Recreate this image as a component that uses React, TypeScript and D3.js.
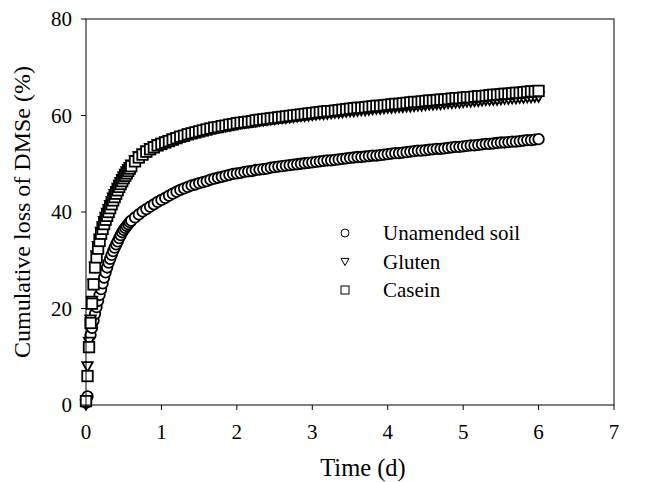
import React from "react";
import * as d3 from "d3";

const time = [
  0, 0.02, 0.04, 0.06, 0.08, 0.1, 0.12, 0.14, 0.16, 0.18,
  0.2, 0.22, 0.24, 0.26, 0.28, 0.3, 0.32, 0.34, 0.36, 0.38,
  0.4, 0.42, 0.44, 0.46, 0.48, 0.5, 0.52, 0.54, 0.56, 0.58,
  0.6,
  0.65, 0.7, 0.75, 0.8, 0.85, 0.9, 0.95, 1.0,
  1.05, 1.1, 1.15, 1.2, 1.25, 1.3, 1.35, 1.4, 1.45, 1.5, 1.55, 1.6, 1.65, 1.7, 1.75, 1.8, 1.85, 1.9, 1.95, 2.0,
  2.05, 2.1, 2.15, 2.2, 2.25, 2.3, 2.35, 2.4, 2.45, 2.5, 2.55, 2.6, 2.65, 2.7, 2.75, 2.8, 2.85, 2.9, 2.95, 3.0,
  3.05, 3.1, 3.15, 3.2, 3.25, 3.3, 3.35, 3.4, 3.45, 3.5, 3.55, 3.6, 3.65, 3.7, 3.75, 3.8, 3.85, 3.9, 3.95, 4.0,
  4.05, 4.1, 4.15, 4.2, 4.25, 4.3, 4.35, 4.4, 4.45, 4.5, 4.55, 4.6, 4.65, 4.7, 4.75, 4.8, 4.85, 4.9, 4.95, 5.0,
  5.05, 5.1, 5.15, 5.2, 5.25, 5.3, 5.35, 5.4, 5.45, 5.5, 5.55, 5.6, 5.65, 5.7, 5.75, 5.8, 5.85, 5.9, 5.95, 6.0,
];

const unamended = [
  0.5, 1.8, 12, 14.5, 16, 17.5, 18.9, 20.3, 21.6, 22.8,
  24, 25.2, 26.4, 27.5, 28.5, 29.5, 30.3, 31.1, 31.9, 32.6,
  33.3, 33.9, 34.6, 35.2, 35.8, 36.3, 36.7, 37.1, 37.5, 37.9,
  38.2,
  38.9, 39.5, 40.1, 40.6, 41.1, 41.6, 42.1, 42.5,
  42.9, 43.4, 43.8, 44.2, 44.6, 44.9, 45.2, 45.5, 45.7, 46.0, 46.2, 46.4, 46.7, 46.9, 47.1, 47.3, 47.5, 47.7, 47.9, 48.0,
  48.1, 48.3, 48.4, 48.5, 48.7, 48.8, 48.9, 49.0, 49.2, 49.3, 49.4, 49.5, 49.6, 49.7, 49.8, 49.9, 50.0, 50.1, 50.2, 50.3,
  50.4, 50.5, 50.6, 50.7, 50.7, 50.8, 50.9, 51.0, 51.1, 51.2, 51.3, 51.4, 51.4, 51.5, 51.6, 51.7, 51.7, 51.8, 51.9, 52.0,
  52.1, 52.2, 52.2, 52.3, 52.4, 52.5, 52.6, 52.7, 52.7, 52.8, 52.9, 53.0, 53.1, 53.1, 53.2, 53.3, 53.4, 53.5, 53.5, 53.6,
  53.7, 53.8, 53.8, 53.9, 54.0, 54.1, 54.1, 54.2, 54.3, 54.4, 54.4, 54.5, 54.6, 54.6, 54.7, 54.8, 54.9, 54.9, 55.0, 55.1,
];

const gluten = [
  0, 7.9, 13, 17.6, 21.5, 25, 28.5, 30.9, 32.8, 34.4,
  35.8, 36.9, 38.0, 38.9, 39.7, 40.5, 41.3, 42.1, 42.9, 43.6,
  44.2, 44.9, 45.5, 46.1, 46.7, 47.3, 47.8, 48.3, 48.8, 49.2,
  49.7,
  50.6, 51.4, 52.0, 52.6, 53.1, 53.5, 53.9, 54.2,
  54.5, 54.8, 55.1, 55.3, 55.6, 55.8, 56.0, 56.2, 56.4, 56.6, 56.8, 57.0, 57.1, 57.3, 57.4, 57.6, 57.7, 57.9, 58.0, 58.2,
  58.3, 58.4, 58.5, 58.6, 58.7, 58.8, 58.9, 59.0, 59.1, 59.2, 59.3, 59.4, 59.4, 59.5, 59.6, 59.7, 59.8, 59.8, 59.9, 60.0,
  60.1, 60.2, 60.2, 60.3, 60.4, 60.5, 60.5, 60.6, 60.7, 60.8, 60.8, 60.9, 61.0, 61.0, 61.1, 61.2, 61.3, 61.3, 61.4, 61.5,
  61.5, 61.6, 61.7, 61.7, 61.8, 61.8, 61.9, 62.0, 62.0, 62.1, 62.2, 62.2, 62.3, 62.3, 62.4, 62.5, 62.5, 62.6, 62.6, 62.7,
  62.8, 62.8, 62.9, 62.9, 63.0, 63.1, 63.1, 63.2, 63.2, 63.3, 63.4, 63.4, 63.5, 63.5, 63.6, 63.6, 63.7, 63.7, 63.8, 63.8,
];

const casein = [
  0.8, 6, 12, 17, 21, 25, 28.5, 30.6, 32.4, 34.0,
  35.5, 36.5, 37.5, 38.4, 39.2, 40.0, 40.8, 41.6, 42.4, 43.1,
  43.8, 44.5, 45.2, 45.8, 46.4, 47.0, 47.5, 48.0, 48.5, 49.0,
  49.5,
  50.5, 51.3, 51.9, 52.5, 53.0, 53.4, 53.8, 54.1,
  54.4, 54.7, 55.0, 55.3, 55.6, 55.8, 56.1, 56.3, 56.5, 56.7, 56.9, 57.1, 57.3, 57.5, 57.6, 57.8, 57.9, 58.1, 58.2, 58.4,
  58.5, 58.6, 58.7, 58.8, 59.0, 59.1, 59.2, 59.3, 59.4, 59.5, 59.6, 59.7, 59.8, 59.9, 60.0, 60.1, 60.2, 60.3, 60.4, 60.5,
  60.6, 60.7, 60.8, 60.9, 60.9, 61.0, 61.1, 61.2, 61.3, 61.4, 61.5, 61.6, 61.6, 61.7, 61.8, 61.9, 62.0, 62.0, 62.1, 62.2,
  62.3, 62.4, 62.4, 62.5, 62.6, 62.7, 62.8, 62.8, 62.9, 63.0, 63.1, 63.1, 63.2, 63.3, 63.3, 63.4, 63.5, 63.6, 63.6, 63.7,
  63.8, 63.8, 63.9, 64.0, 64.0, 64.1, 64.2, 64.3, 64.3, 64.4, 64.5, 64.5, 64.6, 64.7, 64.7, 64.8, 64.9, 65.0, 65.0, 65.1,
];

const xTicks = [0, 1, 2, 3, 4, 5, 6, 7];
const yTicks = [0, 20, 40, 60, 80];
const seriesNames = ["Unamended soil", "Gluten", "Casein"];
const xTitle = "Time (d)";
const yTitle = "Cumulative loss of DMSe (%)";

const W = 648;
const H = 482;
const L = 86, R = 614, T = 19, B = 405;
const FONT = "'Liberation Serif', 'Times New Roman', serif";

type Shape = "circle" | "triangle" | "square";

function Marker({ x, y, shape, s, sw }: { x: number; y: number; shape: Shape; s: number; sw: number }) {
  const common = { fill: "#fff", stroke: "#000", strokeWidth: sw };
  if (shape === "circle") return <circle cx={x} cy={y} r={s / 2} {...common} />;
  if (shape === "square") return <rect x={x - s / 2} y={y - s / 2} width={s} height={s} {...common} />;
  const h = s * 0.9;
  return (
    <path d={`M${x - s / 2},${y - h / 2}L${x + s / 2},${y - h / 2}L${x},${y + h / 2}Z`} {...common} />
  );
}

export default function App() {
  const x = d3.scaleLinear().domain([0, 7]).range([L, R]);
  const y = d3.scaleLinear().domain([0, 80]).range([B, T]);

  const series: { name: string; values: number[]; shape: Shape }[] = [
    { name: seriesNames[0], values: unamended, shape: "circle" },
    { name: seriesNames[1], values: gluten, shape: "triangle" },
    { name: seriesNames[2], values: casein, shape: "square" },
  ];

  const legendY = [233, 262, 290];

  return (
    <svg width={W} height={H} style={{ position: "absolute", left: 0, top: 0, background: "#fff" }}>
      <rect x={0} y={0} width={W} height={H} fill="#fff" />
      {series.map((s) => (
        <g key={s.name}>
          {time.map((t, i) => (
            <Marker key={i} x={x(t)} y={y(s.values[i])} shape={s.shape} s={10.5} sw={1.8} />
          ))}
        </g>
      ))}
      <rect x={L} y={T} width={R - L} height={B - T} fill="none" stroke="#000" strokeWidth={1} />
      {xTicks.map((t) => (
        <g key={"x" + t}>
          <line x1={x(t)} x2={x(t)} y1={B} y2={B + 5} stroke="#000" />
          <text x={x(t)} y={439} textAnchor="middle" fontFamily={FONT} fontSize={21}>
            {t}
          </text>
        </g>
      ))}
      {yTicks.map((v) => (
        <g key={"y" + v}>
          <line x1={L - 5} x2={L} y1={y(v)} y2={y(v)} stroke="#000" />
          <text x={72} y={y(v) + 7} textAnchor="end" fontFamily={FONT} fontSize={21}>
            {v}
          </text>
        </g>
      ))}
      <text x={363} y={476} textAnchor="middle" fontFamily={FONT} fontSize={24.5}>
        {xTitle}
      </text>
      <text
        transform={`translate(30,212) rotate(-90)`}
        textAnchor="middle"
        fontFamily={FONT}
        fontSize={24}
      >
        {yTitle}
      </text>
      {series.map((s, i) => (
        <g key={"lg" + s.name}>
          <Marker x={345} y={legendY[i]} shape={s.shape} s={8} sw={1} />
          <text x={383} y={legendY[i] + 7} fontFamily={FONT} fontSize={21}>
            {s.name}
          </text>
        </g>
      ))}
    </svg>
  );
}
